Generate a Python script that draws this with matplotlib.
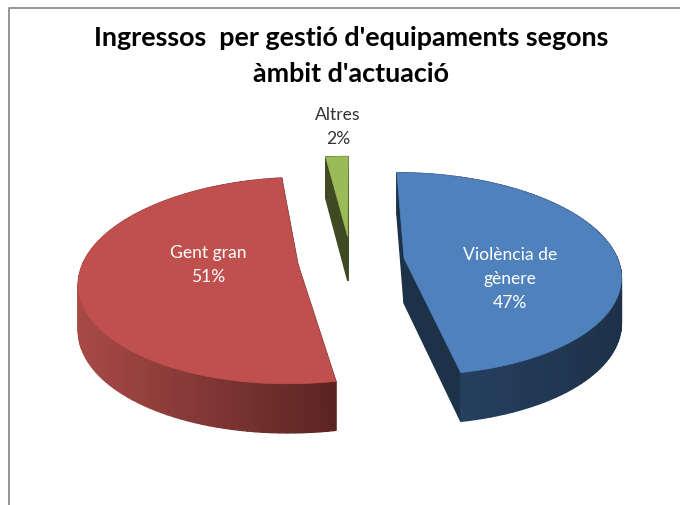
import numpy as np
import matplotlib
matplotlib.use('Agg')
import matplotlib.pyplot as plt
from matplotlib.colors import LinearSegmentedColormap
from matplotlib.patches import Polygon

title_lines = ["Ingressos  per gestió d'equipaments segons", "àmbit d'actuació"]
categories = ['Violència de\ngènere', 'Gent gran', 'Altres']
values = [47, 51, 2]
top_colors = ['#4F81BD', '#C0504D', '#9BBB59']
rim_colors = [['#2A4468', '#1D3249'], ['#A84A47', '#5A2422'], ['#3F4A22', '#3F4A22']]
label_colors = ['white', 'white', '#333333']
label_pos = [(510, 279), (208, 265), (338, 127)]

# pie geometry in pixels
cx, cy = 351, 260.5   # centre of the plane
R, H = 214, 99.4      # radii of the disc
k = 0.156             # perspective strength
explode = 0.25
depth = 45


def project(x, y, drop=0):
    s = 1 / (1 - k * y)
    return cx + R * x * s, cy + H * y * s + drop * np.sqrt(s)


fig = plt.figure(figsize=(6.8, 5.05), dpi=100)
ax = fig.add_axes([0, 0, 1, 1])
ax.set_xlim(0, 680)
ax.set_ylim(505, 0)
ax.axis('off')

# chart frame, cut off at right and bottom
ax.plot([8.5, 8.5, 680], [505, 7.5, 7.5], color='#8c8c8c', lw=1.3)

edges = np.cumsum([0] + values) / sum(values) * 2 * np.pi

for i, val in enumerate(values):
    th = np.linspace(edges[i], edges[i + 1], max(int(val * 2), 12))
    mid = (edges[i] + edges[i + 1]) / 2
    ox, oy = explode * np.sin(mid), -explode * np.cos(mid)
    xs = ox + np.sin(th)
    ys = oy - np.cos(th)
    # outline: apex, then the arc
    wx = np.concatenate([[ox], xs, [ox]])
    wy = np.concatenate([[oy], ys, [oy]])
    tx, ty = project(wx, wy)
    bx, by = project(wx, wy, depth)

    cmap = LinearSegmentedColormap.from_list('rim', rim_colors[i])
    xmin, xmax = tx[1:-1].min(), tx[1:-1].max()
    quads = sorted(range(len(tx) - 1), key=lambda j: wy[j] + wy[j + 1])
    for j in quads:
        is_rim = 0 < j < len(tx) - 2
        if is_rim:
            f = ((tx[j] + tx[j + 1]) / 2 - xmin) / max(xmax - xmin, 1)
            col = cmap(f)
        else:
            col = rim_colors[i][1]
        ax.add_patch(Polygon([(tx[j], ty[j]), (tx[j + 1], ty[j + 1]),
                              (bx[j + 1], by[j + 1]), (bx[j], by[j])],
                             facecolor=col, edgecolor=col, lw=1.0))
    ax.add_patch(Polygon(np.column_stack([tx, ty]), facecolor=top_colors[i],
                         edgecolor=top_colors[i], lw=0.5))

    ax.text(label_pos[i][0], label_pos[i][1], f'{categories[i]}\n{val}%',
            color=label_colors[i], ha='center', va='center', family='Lato',
            fontsize=12.6, linespacing=1.62)

for line, y in zip(title_lines, [38, 74]):
    ax.text(351, y, line, ha='center', va='center', family='Lato',
            weight='bold', fontsize=19.4, color='black')

fig.savefig('out.png', dpi=100)
